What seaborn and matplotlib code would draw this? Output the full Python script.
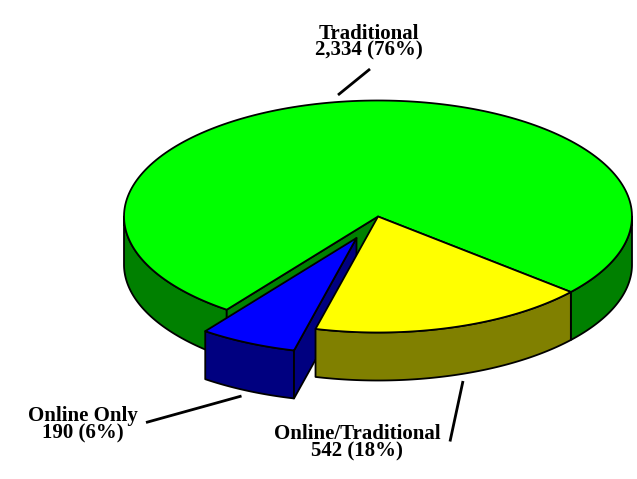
import numpy as np
import matplotlib
matplotlib.use("Agg")
import matplotlib.pyplot as plt
from matplotlib.patches import Polygon
import seaborn as sns

# Data
categories = ["Traditional", "Online/Traditional", "Online Only"]
counts = [2334, 542, 190]
percent_labels = ["2,334 (76%)", "542 (18%)", "190 (6%)"]

sns.set_theme(style="white")
plt.rcParams["font.family"] = ["Liberation Serif", "DejaVu Serif"]

top_colors = sns.color_palette(["#00ff00", "#ffff00", "#0000ff"])
side_colors = sns.color_palette(["#008000", "#808000", "#000080"])

# Pie geometry (pixels of the figure)
CX, CY, RX, RY, DEPTH = 378.0, 216.5, 254.0, 116.0, 48.0
START = -40.6
EXPLODE = {"Online Only": (-21.5, 21.5)}
LW = 1.3

fig = plt.figure(figsize=(6.37, 4.79), dpi=100)
ax = fig.add_axes([0, 0, 1, 1])
ax.set_xlim(0, 637)
ax.set_ylim(479, 0)
ax.axis("off")


def rim(t0, t1, off):
    t = np.radians(np.linspace(t0, t1, 200))
    return np.column_stack([CX + off[0] + RX * np.cos(t), CY + off[1] - RY * np.sin(t)])


def fill(pts, color, z, lw=LW):
    ax.add_patch(Polygon(pts, closed=True, facecolor=color, edgecolor="black",
                         linewidth=lw, joinstyle="round", zorder=z))


# Angular ranges, from the counts: yellow runs clockwise from START, blue after it,
# green takes the rest going the other way.
total = sum(counts)
sweep = {c: 360.0 * v / total for c, v in zip(categories, counts)}
yel_end = START - sweep["Online/Traditional"]
blue_end = yel_end - sweep["Online Only"]
ranges = {
    "Traditional": (START, START + sweep["Traditional"]),
    "Online/Traditional": (yel_end, START),
    "Online Only": (blue_end, yel_end),
}


def outer_wall(t0, t1, off, color, z):
    for lo, hi in ((-180, 0), (180, 360)):
        a, b = max(t0, lo), min(t1, hi)
        if b > a:
            r = rim(a, b, off)
            fill(np.vstack([r, (r + [0, DEPTH])[::-1]]), color, z)


def radial_wall(t, off, color, z):
    p = rim(t, t, off)[0]
    apex = np.array([CX + off[0], CY + off[1]])
    fill([apex, p, p + [0, DEPTH], apex + [0, DEPTH]], color, z)


# Draw back to front
order = ["Traditional", "Online Only", "Online/Traditional"]
for i, cat in enumerate(order):
    idx = categories.index(cat)
    t0, t1 = ranges[cat]
    off = EXPLODE.get(cat, (0, 0))
    z = 2 + i * 3
    outer_wall(t0, t1, off, side_colors[idx], z)
    if cat == "Traditional":
        radial_wall(t1, off, side_colors[idx], z)
    if cat == "Online Only":
        radial_wall(t1, off, side_colors[idx], z)
    apex = np.array([[CX + off[0], CY + off[1]]])
    fill(np.vstack([apex, rim(t0, t1, off)]), top_colors[idx], z + 1)

# Labels and leader lines
label_pos = {"Traditional": (369, 55.5), "Online/Traditional": (357, 456), "Online Only": (82.5, 438)}
leaders = {
    "Traditional": ((338, 95), (370, 69)),
    "Online/Traditional": ((463, 381), (450, 441.5)),
    "Online Only": ((146, 422.5), (241.5, 396)),
}
for cat, pct in zip(categories, percent_labels):
    x, y = label_pos[cat]
    ax.text(x, y, f"{cat}\n{pct}", ha="center", va="baseline", fontsize=15,
            fontweight="bold", color="black", linespacing=0.78, multialignment="center",
            zorder=20)
    (x0, y0), (x1, y1) = leaders[cat]
    ax.plot([x0, x1], [y0, y1], color="black", lw=2.0, solid_capstyle="butt", zorder=20)

fig.savefig("out.png", dpi=100, facecolor="white")
